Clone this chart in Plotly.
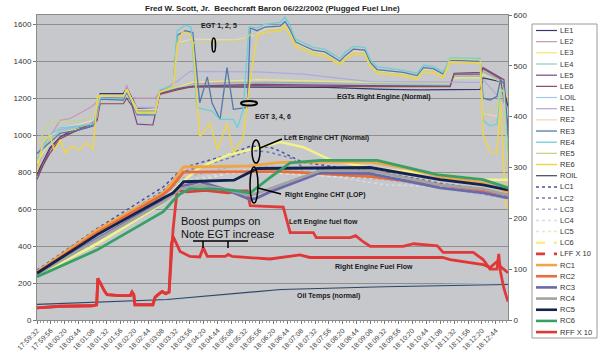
import plotly.graph_objects as go

# ---------------- data (seconds after 17:59:32) ----------------
TIME_LABELS = ["17:59:32", "17:59:56", "18:00:20", "18:00:44", "18:01:08", "18:01:32",
               "18:01:56", "18:02:20", "18:02:44", "18:03:08", "18:03:32", "18:03:56",
               "18:04:20", "18:04:44", "18:05:08", "18:05:32", "18:05:56", "18:06:20",
               "18:06:44", "18:07:08", "18:07:32", "18:07:56", "18:08:20", "18:08:44",
               "18:09:08", "18:09:32", "18:09:56", "18:10:20", "18:10:44", "18:11:08",
               "18:11:32", "18:11:56", "18:12:20", "18:12:44"]
TICK_SECONDS = [0, 24, 48, 72, 96, 120, 144, 168, 192, 216, 240, 264, 288, 312, 336, 360,
                384, 408, 432, 456, 480, 504, 528, 552, 576, 600, 624, 648, 672, 696, 720,
                744, 768, 792]

# EGTs (left axis, deg F)
T_LE1 = [0, 14, 22, 40, 57, 74, 92, 100, 109, 149, 155, 161, 173, 204, 212, 230, 242, 269, 380, 500, 600, 661, 765, 770, 800, 806, 813]
V_LE1 = [790, 880, 930, 990, 1020, 1040, 1050, 1060, 1225, 1225, 1255, 1220, 1145, 1145, 1235, 1250, 1255, 1262, 1262, 1258, 1248, 1245, 1248, 1310, 1290, 1250, 1150]
T_LE2 = [0, 14, 22, 40, 57, 74, 92, 100, 109, 149, 155, 161, 173, 204, 212, 242, 269, 380, 575, 713, 720, 765, 770, 800, 813]
V_LE2 = [830, 920, 990, 1080, 1090, 1120, 1150, 1170, 1195, 1200, 1270, 1205, 1200, 1200, 1235, 1262, 1280, 1285, 1280, 1282, 1320, 1318, 1345, 1300, 1200]
T_LE3 = [0, 22, 40, 74, 92, 104, 109, 149, 155, 161, 173, 204, 212, 242, 269, 380, 575, 713, 720, 765, 770, 800, 813]
V_LE3 = [850, 960, 1010, 1035, 1050, 1080, 1210, 1205, 1240, 1205, 1130, 1130, 1230, 1260, 1285, 1300, 1285, 1280, 1310, 1310, 1330, 1290, 1200]
T_LE4 = [0, 22, 40, 74, 92, 104, 109, 149, 155, 161, 173, 204, 212, 242, 269, 380, 713, 720, 765, 770, 800, 813]
V_LE4 = [880, 980, 1020, 1045, 1060, 1090, 1215, 1205, 1245, 1205, 1150, 1145, 1235, 1255, 1270, 1280, 1275, 1320, 1320, 1340, 1290, 1100]
T_LE5 = [0, 22, 40, 74, 92, 104, 109, 149, 155, 161, 173, 200, 212, 242, 269, 380, 575, 713, 720, 765, 770, 800, 806, 813]
V_LE5 = [760, 920, 990, 1030, 1045, 1080, 1205, 1200, 1235, 1195, 1060, 1055, 1225, 1250, 1265, 1275, 1268, 1265, 1335, 1340, 1365, 1310, 1300, 990]
T_LE6 = [0, 22, 40, 74, 92, 104, 109, 149, 155, 161, 173, 204, 212, 242, 269, 380, 575, 713, 720, 765, 770, 800, 813]
V_LE6 = [780, 900, 980, 1035, 1055, 1090, 1170, 1170, 1200, 1170, 1130, 1130, 1220, 1245, 1262, 1268, 1262, 1262, 1330, 1330, 1360, 1305, 1050]
T_LOIL = [0, 224, 420, 600, 813]
V_LOIL = [82, 108, 160, 185, 200]
T_RE1 = [0, 22, 40, 74, 92, 104, 109, 149, 155, 161, 173, 204, 212, 242, 264, 380, 459, 575, 713, 765, 770, 813]
V_RE1 = [900, 1000, 1030, 1050, 1060, 1100, 1200, 1195, 1230, 1200, 1150, 1150, 1240, 1290, 1345, 1342, 1330, 1290, 1285, 1285, 1300, 1150]
T_RE2 = [0, 22, 40, 74, 97, 109, 149, 155, 161, 173, 204, 212, 235, 242, 269, 340, 368, 380,
         394, 420, 428, 437, 446, 459, 477, 497, 523, 532, 546, 566, 575, 587, 632, 656, 667, 684, 701, 713, 765,
         770, 782, 794, 800, 806, 813]
V_RE2 = [880, 990, 1040, 1060, 1080, 1210, 1210, 1250, 1210, 1140, 1140, 1240, 1260, 1500, 1520, 1515, 1530, 1550,
         1575, 1582, 1600, 1560, 1495, 1478, 1452, 1440, 1392, 1420, 1455, 1450, 1388, 1348, 1333, 1315, 1356, 1352, 1322, 1398, 1393,
         1120, 1110, 1100, 1240, 1240, 850]
T_RE3 = [0, 22, 40, 74, 97, 109, 149, 155, 161, 173, 204, 212, 235, 242, 256, 269, 281, 294, 302, 316, 328, 339, 363, 368, 380,
         394, 420, 428, 437, 446, 459, 477, 497, 523, 532, 546, 566, 575, 587, 632, 656, 667, 684, 701, 713, 765,
         770, 782, 794, 800, 806, 813]
V_RE3 = [900, 960, 1010, 1030, 1050, 1195, 1190, 1235, 1190, 1110, 1110, 1240, 1260, 1540, 1565, 1555, 1175, 1315, 1175, 1085, 1365, 1140, 1150, 1580, 1565,
         1585, 1590, 1615, 1570, 1505, 1485, 1460, 1450, 1400, 1430, 1465, 1460, 1395, 1355, 1340, 1322, 1365, 1360, 1330, 1405, 1400,
         1200, 1190, 1210, 1300, 1280, 1000]
T_RE4 = [0, 22, 40, 74, 97, 109, 149, 155, 161, 173, 204, 212, 235, 242, 256, 266, 276, 302, 316, 339, 346, 356, 366, 380,
         394, 420, 428, 437, 446, 459, 477, 497, 523, 532, 546, 566, 575, 587, 632, 656, 667, 684, 701, 713, 765,
         770, 782, 794, 800, 806, 813]
V_RE4 = [870, 1000, 1040, 1050, 1060, 1200, 1200, 1240, 1200, 1120, 1115, 1245, 1265, 1565, 1595, 1585, 1150, 1130, 1085, 1085, 1040, 1140, 1585, 1580,
         1600, 1610, 1640, 1590, 1520, 1500, 1475, 1465, 1415, 1450, 1480, 1475, 1410, 1370, 1350, 1335, 1378, 1372, 1342, 1418, 1415,
         1080, 1050, 1060, 1230, 1250, 900]
T_RE5 = [0, 22, 40, 74, 92, 100, 109, 149, 155, 161, 173, 204, 212, 235, 242, 300, 356, 368, 380,
         394, 420, 428, 437, 446, 459, 477, 497, 523, 532, 546, 566, 575, 587, 632, 656, 667, 684, 701, 713, 765,
         770, 782, 794, 800, 806, 813]
V_RE5 = [950, 1070, 1075, 1075, 1100, 1110, 1215, 1210, 1250, 1210, 1130, 1130, 1235, 1255, 1495, 1505, 1510, 1545, 1545,
         1565, 1575, 1590, 1550, 1490, 1470, 1445, 1435, 1388, 1415, 1448, 1443, 1380, 1342, 1328, 1310, 1350, 1346, 1318, 1412, 1408,
         1100, 1140, 1150, 1250, 1230, 800]
T_RE6 = [0, 10, 22, 30, 40, 50, 60, 74, 85, 97, 104, 109, 149, 155, 161, 173, 204, 212, 235, 242, 251, 264, 269, 281, 299, 311, 328, 339, 356, 368, 380,
         394, 420, 428, 437, 446, 459, 477, 497, 523, 532, 546, 566, 575, 587, 632, 656, 667, 684, 701, 713, 765,
         770, 782, 794, 800, 809, 813]
V_RE6 = [800, 960, 1000, 920, 975, 900, 940, 920, 960, 920, 1200, 1215, 1210, 1245, 1210, 1120, 1120, 1235, 1260, 1480, 1560, 1545, 1500, 990, 1065, 920, 1065, 900, 990, 1300, 1540,
         1555, 1565, 1585, 1540, 1480, 1460, 1438, 1428, 1380, 1408, 1440, 1435, 1372, 1335, 1320, 1302, 1342, 1338, 1310, 1395, 1390,
         1000, 910, 900, 1190, 620, 600]
T_ROIL = [0, 224, 420, 600, 813]
V_ROIL = [84, 111, 165, 180, 192]

# CHTs and fuel flow x10 (right axis)
T_LC1 = [0, 104, 218, 253, 330, 368, 402, 420, 459, 523, 600, 700, 770, 813]
V_LC1 = [98, 180, 262, 300, 325, 342, 340, 332, 310, 300, 290, 268, 258, 244]
T_LC2 = [0, 104, 218, 253, 330, 368, 402, 440, 459, 523, 600, 700, 770, 813]
V_LC2 = [95, 172, 255, 292, 318, 334, 330, 318, 300, 290, 282, 262, 252, 240]
T_LC3 = [0, 104, 218, 253, 330, 368, 420, 523, 600, 700, 813]
V_LC3 = [92, 165, 245, 280, 300, 305, 300, 283, 276, 260, 238]
T_LC4 = [0, 104, 218, 253, 330, 368, 420, 523, 600, 700, 813]
V_LC4 = [90, 162, 240, 272, 292, 296, 292, 280, 266, 262, 240]
T_LC5 = [0, 104, 218, 253, 330, 368, 420, 523, 600, 700, 813]
V_LC5 = [90, 160, 238, 268, 288, 292, 288, 282, 278, 264, 244]
T_LC6 = [0, 104, 218, 247, 281, 330, 368, 402, 420, 460, 506, 550, 600, 696, 770, 813]
V_LC6 = [88, 150, 230, 268, 300, 325, 335, 345, 350, 340, 315, 305, 296, 286, 276, 276]
T_LFF = [0, 20, 40, 95, 103, 105, 110, 117, 121, 143, 161, 164, 167, 169, 200, 204, 209, 216, 222, 228, 235, 242, 260, 290, 330, 350, 363, 368,
         425, 430, 437, 477, 482, 541, 550, 563, 575, 632, 650, 691, 701, 753, 770, 782, 794, 797, 800, 806, 813]
V_LFF = [24, 25, 27, 28, 30, 82, 70, 56, 50, 48, 48, 55, 50, 30, 30, 45, 50, 56, 52, 55, 180, 256, 252, 255, 250, 254, 254, 225,
         222, 200, 172, 172, 162, 162, 166, 154, 145, 145, 150, 146, 133, 133, 119, 100, 100, 130, 95, 62, 36]
T_RC1 = [0, 104, 218, 230, 253, 368, 420, 575, 632, 696, 770, 813]
V_RC1 = [95, 177, 250, 265, 301, 303, 310, 311, 300, 282, 270, 252]
T_RC2 = [0, 104, 218, 230, 253, 368, 420, 460, 530, 575, 696, 770, 813]
V_RC2 = [92, 172, 247, 258, 291, 292, 292, 290, 285, 282, 266, 255, 246]
T_RC3 = [0, 104, 218, 247, 281, 330, 368, 380, 402, 489, 575, 696, 770, 813]
V_RC3 = [90, 160, 235, 262, 272, 255, 237, 240, 252, 290, 288, 260, 250, 240]
T_RC4 = [0, 104, 218, 247, 281, 330, 368, 402, 489, 575, 696, 770, 813]
V_RC4 = [90, 158, 232, 258, 265, 256, 245, 258, 294, 294, 266, 258, 246]
T_RC5 = [0, 104, 218, 235, 253, 340, 380, 575, 696, 770, 813]
V_RC5 = [92, 168, 240, 250, 272, 275, 298, 300, 276, 266, 256]
T_RC6 = [0, 104, 218, 235, 247, 264, 300, 340, 368, 385, 402, 437, 489, 587, 691, 770, 813]
V_RC6 = [85, 138, 213, 235, 248, 258, 258, 255, 250, 265, 280, 309, 314, 314, 286, 276, 260]
T_RFF = [0, 20, 40, 95, 103, 105, 110, 117, 121, 143, 161, 164, 167, 169, 200, 204, 209, 216, 222, 228, 232, 235, 247, 264, 281, 287, 294,
         325, 330, 337, 402, 454, 471, 700, 713, 770, 782, 794, 800, 813]
V_RFF = [24, 25, 27, 28, 30, 82, 70, 56, 50, 48, 48, 55, 50, 30, 30, 45, 50, 56, 52, 55, 150, 164, 135, 125, 124, 142, 125,
         125, 129, 125, 120, 128, 123, 123, 119, 109, 103, 115, 105, 93]

# ---------------- styles ----------------
SERIES = [
    ("LE1", T_LE1, V_LE1, "#36366c", 1.2, "solid", "y"),
    ("LE2", T_LE2, V_LE2, "#c896b8", 1.2, "solid", "y"),
    ("LE3", T_LE3, V_LE3, "#ece878", 1.2, "solid", "y"),
    ("LE4", T_LE4, V_LE4, "#86d0c0", 1.2, "solid", "y"),
    ("LE5", T_LE5, V_LE5, "#7a4688", 1.2, "solid", "y"),
    ("LE6", T_LE6, V_LE6, "#8a4c5c", 1.2, "solid", "y"),
    ("LOIL", T_LOIL, V_LOIL, "#a6c8e8", 1.2, "solid", "y"),
    ("RE1", T_RE1, V_RE1, "#b0a8e0", 1.2, "solid", "y"),
    ("RE2", T_RE2, V_RE2, "#f0d4bc", 1.2, "solid", "y"),
    ("RE3", T_RE3, V_RE3, "#5478ac", 1.3, "solid", "y"),
    ("RE4", T_RE4, V_RE4, "#6ccfd6", 1.3, "solid", "y"),
    ("RE5", T_RE5, V_RE5, "#c4d488", 1.3, "solid", "y"),
    ("RE6", T_RE6, V_RE6, "#f0d448", 1.5, "solid", "y"),
    ("ROIL", T_ROIL, V_ROIL, "#3c4454", 1.2, "solid", "y"),
    ("LC1", T_LC1, V_LC1, "#4454a4", 1.5, "dot", "y2"),
    ("LC2", T_LC2, V_LC2, "#7078b0", 1.5, "dot", "y2"),
    ("LC3", T_LC3, V_LC3, "#a4b4cc", 1.5, "dot", "y2"),
    ("LC4", T_LC4, V_LC4, "#d4dce4", 1.5, "dot", "y2"),
    ("LC5", T_LC5, V_LC5, "#e8e8cc", 1.5, "dot", "y2"),
    ("LC6", T_LC6, V_LC6, "#f2f28a", 2.6, "solid", "y2"),
    ("LFF X 10", T_LFF, V_LFF, "#e03a3a", 2.8, "solid", "y2"),
    ("RC1", T_RC1, V_RC1, "#f0a648", 2.8, "solid", "y2"),
    ("RC2", T_RC2, V_RC2, "#e86c3c", 2.8, "solid", "y2"),
    ("RC3", T_RC3, V_RC3, "#6a6aaa", 2.8, "solid", "y2"),
    ("RC4", T_RC4, V_RC4, "#a2a2a2", 2.8, "solid", "y2"),
    ("RC5", T_RC5, V_RC5, "#142250", 2.8, "solid", "y2"),
    ("RC6", T_RC6, V_RC6, "#38a066", 2.8, "solid", "y2"),
    ("RFF X 10", T_RFF, V_RFF, "#e03636", 2.8, "solid", "y2"),
]
LEGEND_DASH = {"LC6": "dash", "LFF X 10": "dash"}

W, H = 600, 362
ML, MR, MT, MB = 37, 92, 15, 42
PW, PH = W - ML - MR, H - MT - MB


def px(x):
    return (x - ML) / PW


def py(y):
    return (H - MB - y) / PH


FONT = "Liberation Sans, Arial, sans-serif"

fig = go.Figure()
for name, t, v, color, width, dash, axis in SERIES:
    fig.add_trace(go.Scatter(x=t, y=v, mode="lines", name=name, yaxis=axis,
                             line=dict(color=color, width=width, dash=dash),
                             showlegend=False, hoverinfo="skip"))

shapes = []
annotations = []

# custom legend
shapes.append(dict(type="rect", xref="paper", yref="paper", x0=px(532), x1=px(597),
                   y0=py(338), y1=py(24), line=dict(color="#9a9a9a", width=1), fillcolor="white", layer="above"))
for i, (name, t, v, color, width, dash, axis) in enumerate(SERIES):
    yy = 30.5 + 11.17 * i
    ldash = LEGEND_DASH.get(name, dash)
    shapes.append(dict(type="line", xref="paper", yref="paper", x0=px(536), x1=px(557),
                       y0=py(yy), y1=py(yy), line=dict(color=color, width=min(width, 2.6), dash=ldash), layer="above"))
    annotations.append(dict(xref="paper", yref="paper", x=px(557.5), y=py(yy), text=name,
                            showarrow=False, xanchor="left", yanchor="middle",
                            font=dict(family=FONT, size=7.5, color="#333")))

# title
annotations.append(dict(xref="paper", yref="paper", x=px(272), y=py(8),
                        text="<b>Fred W. Scott, Jr.  Beechcraft Baron 06/22/2002 (Plugged Fuel Line)</b>",
                        showarrow=False, xanchor="center", yanchor="middle",
                        font=dict(family=FONT, size=8, color="#222")))

bold_labels = [
    ("EGT 1, 2, 5", 219, 26, "center"),
    ("EGT 3, 4, 6", 253, 117, "left"),
    ("EGTs Right Engine (Normal)", 335, 97, "left"),
    ("Left Engine CHT (Normal)", 282, 138, "left"),
    ("Right Engine CHT (LOP)", 283, 195, "left"),
    ("Left Engine fuel flow", 287, 222, "left"),
    ("Right Engine Fuel Flow", 333, 267, "left"),
    ("Oil Temps (normal)", 295, 296, "left"),
]
for text, x, y, anchor in bold_labels:
    annotations.append(dict(xref="paper", yref="paper", x=px(x), y=py(y), text="<b>" + text + "</b>",
                            showarrow=False, xanchor=anchor, yanchor="middle",
                            font=dict(family=FONT, size=7, color="#1a1a1a")))

annotations.append(dict(xref="paper", yref="paper", x=px(179), y=py(221), text="Boost pumps on",
                        showarrow=False, xanchor="left", yanchor="middle",
                        font=dict(family=FONT, size=11, color="#111")))
annotations.append(dict(xref="paper", yref="paper", x=px(179), y=py(234), text="Note EGT increase",
                        showarrow=False, xanchor="left", yanchor="middle",
                        font=dict(family=FONT, size=11, color="#111")))

# ellipses and pointers
for x0, x1, y0, y1, w in [(212, 215.5, 38, 52, 1.6), (241, 257, 101, 105.5, 2), (252, 260, 140, 163, 1.5),
                          (250, 258, 167, 203, 1.5)]:
    shapes.append(dict(type="circle", xref="paper", yref="paper", x0=px(x0), x1=px(x1),
                       y0=py(y1), y1=py(y0), line=dict(color="black", width=w)))
for x0, y0, x1, y1 in [(260, 148, 282, 139), (258, 188, 281, 194),
                       (193, 241, 248, 241), (203, 241, 203, 248), (228, 241, 228, 248)]:
    shapes.append(dict(type="line", xref="paper", yref="paper", x0=px(x0), x1=px(x1),
                       y0=py(y0), y1=py(y1), line=dict(color="black", width=1.5)))

fig.update_layout(
    width=W, height=H,
    margin=dict(l=ML, r=MR, t=MT, b=MB, pad=0, autoexpand=False),
    paper_bgcolor="white", plot_bgcolor="#c6c8cb",
    font=dict(family=FONT, size=8, color="#333"),
    showlegend=False,
    shapes=shapes, annotations=annotations,
    xaxis=dict(range=[0, 813], tickmode="array", tickvals=TICK_SECONDS, ticktext=TIME_LABELS,
               tickangle=-45, tickfont=dict(size=7, color="#444"), ticks="outside", ticklen=3,
               tickcolor="#777", showgrid=False, showline=True, linecolor="#8a8a8a", mirror=True,
               zeroline=False, automargin=False,
               minor=dict(tickmode="linear", tick0=0, dtick=6, ticks="outside", ticklen=2, tickcolor="#999")),
    yaxis=dict(range=[0, 1650], tickmode="array", tickvals=[0, 200, 400, 600, 800, 1000, 1200, 1400, 1600],
               showgrid=True, gridcolor="#8e8e8e", gridwidth=1, showline=True, linecolor="#8a8a8a",
               ticks="outside", ticklen=3, tickcolor="#777", tickfont=dict(size=8, color="#333"),
               zeroline=False, automargin=False),
    yaxis2=dict(range=[0, 600], tickmode="linear", tick0=0, dtick=100, overlaying="y", side="right",
                showgrid=False, showline=True, linecolor="#8a8a8a", ticks="outside", ticklen=3,
                tickcolor="#777", tickfont=dict(size=8, color="#333"), zeroline=False, automargin=False),
)

fig.write_html("out.html", config={"displayModeBar": False, "staticPlot": True},
               post_script="document.body.style.margin='0px';document.body.style.padding='0px';")
